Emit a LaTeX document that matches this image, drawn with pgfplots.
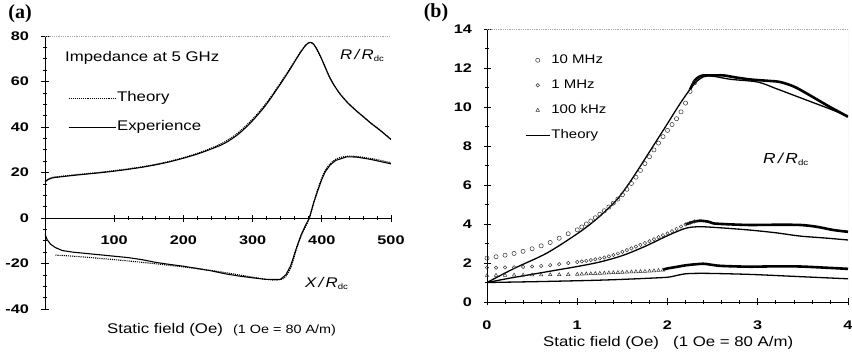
\documentclass[border=0pt]{standalone}
\usepackage{fontspec}
\setmainfont{Liberation Sans}
\newfontfamily\tfont{Liberation Sans}[FakeStretch=1.2]
\newfontfamily\kfont{Liberation Sans}[FakeStretch=1.3]
\newfontfamily\pfont{Liberation Serif}
\usepackage{pgfplots}
\pgfplotsset{compat=1.18}
\newcommand{\rdc}[1]{{\tfont\itshape #1\,/\,R}{\tfont\fontsize{8}{8}\selectfont\raisebox{-2pt}{dc}}}
\begin{document}
\begin{tikzpicture}
\useasboundingbox (0,0) rectangle (852pt,356pt);
% ---------------- panel (a)
\begin{axis}[
  at={(45pt,47pt)}, anchor=south west, scale only axis,
  width=346pt, height=273pt,
  xmin=0, xmax=500, ymin=-40, ymax=80,
  axis y line=left, axis x line=middle,
  axis line style={-, line width=0.9pt},
  hide obscured x ticks=false, hide obscured y ticks=false,
  xtick={100,200,300,400,500}, ytick={-40,-20,0,20,40,60,80},
  minor x tick num=4, minor y tick num=3,
  tick align=center, major tick length=7pt, minor tick length=4pt,
  major tick style={draw=black, line width=0.8pt},
  minor tick style={draw=black, line width=0.7pt},
  /pgf/number format/assume math mode=true,
  ticklabel style={font=\kfont\bfseries\fontsize{12.5}{12.5}\selectfont},
  xticklabel style={yshift=-11pt},
  yticklabel style={xshift=-9pt},
  legend style={draw=none, fill=none, at={(rel axis cs:0.066,0.80)}, anchor=north west,
    inner sep=0pt, row sep=14pt, font=\tfont\fontsize{14}{14}\selectfont,
    nodes={inner sep=1pt, text height=10pt, text depth=3pt}},
  legend cell align=left,
  legend image code/.code={\draw[#1] (0pt,0pt) -- (47pt,0pt);},
]
\addlegendimage{black, densely dotted, line width=1.1pt}
\addlegendimage{black, line width=1pt}
\legend{Theory, Experience}
\draw[gray!70, densely dotted, line width=0.8pt] (rel axis cs:0,1) -- (rel axis cs:1,1);
\draw[gray!70, densely dotted, line width=0.8pt] (rel axis cs:1,1) -- (rel axis cs:1,0);
\draw[gray!70, densely dotted, line width=0.8pt] (rel axis cs:0,0) -- (rel axis cs:1,0);
% R/Rdc experience
\addplot[black, line width=1.1pt, smooth, forget plot] coordinates {
(0,15.9)(5,17.0)(10,17.6)(20,18.0)(40,18.7)(60,19.3)(80,19.9)(100,20.6)(120,21.4)
(140,22.3)(160,23.4)(180,24.7)(200,26.3)(220,28.1)(240,30.3)(260,32.9)(280,37.0)
(300,42.8)(320,50.0)(340,58.8)(355,65.8)(365,70.8)(372,74.0)(377,76.0)(381,77.0)(384,77.2)
(387,76.8)(391,75.2)(395,73.0)(400,69.8)(412,61.5)(424,55.5)(436,51.1)(448,47.6)(460,44.5)
(472,41.4)(484,38.6)(500,34.5)};
% R/Rdc theory
\addplot[black, densely dotted, line width=1.1pt, smooth, forget plot] coordinates {
(0,16.2)(10,17.8)(20,18.2)(40,18.9)(60,19.5)(80,20.1)(100,20.8)(120,21.6)
(140,22.5)(160,23.6)(180,24.9)(200,26.5)(220,28.4)(240,30.7)(260,33.5)(280,37.7)
(300,43.5)(320,50.6)(340,59.3)(355,66.2)(365,71.1)(372,74.2)(377,76.1)(381,77.0)(384,77.2)
(387,76.7)(391,75.0)(395,72.8)(400,69.6)(412,61.4)(424,55.5)(436,51.2)(448,47.7)(460,44.6)
(472,41.5)(484,38.7)(500,34.6)};
% X/Rdc experience
\addplot[black, line width=1.1pt, forget plot] coordinates {
(0,-7.0)(3,-9.5)(8,-11.5)(15,-13.0)(25,-14.3)(40,-15.0)(60,-15.6)(80,-16.2)(100,-16.8)
(120,-17.4)(140,-18.3)(160,-19.5)(180,-20.4)(200,-21.2)(220,-22.2)(240,-23.2)(260,-24.5)
(280,-25.5)(300,-26.3)(320,-27.0)(340,-27.0)(348,-25.0)(355,-21.0)(363,-13.5)(370,-7.5)
(376,-3.5)(382,0)(388,6.5)(393,11.0)(400,17.0)(405,20.3)(412,23.3)(420,25.3)(436,26.9)
(450,26.8)(470,25.8)(485,24.8)(500,23.8)};
% X/Rdc theory
\addplot[black, densely dotted, line width=1.1pt, smooth, forget plot] coordinates {
(15,-16.3)(50,-17.0)(100,-18.3)(150,-19.8)(200,-21.5)(250,-23.5)(300,-26.0)(330,-27.3)
(345,-26.5)(355,-22.0)(363,-14.0)(370,-8.0)(382,0)(393,11.5)(405,21.0)(420,25.8)
(440,27.2)(470,26.2)(500,24.3)};
\end{axis}
\node[anchor=west, inner sep=0pt, font=\tfont\fontsize{14}{14}\selectfont] at (65pt,298pt) {Impedance at 5 GHz};
\node[anchor=west, inner sep=0pt, font=\fontsize{14}{14}\selectfont] at (340pt,301pt) {\rdc{R}};
\node[anchor=west, inner sep=0pt, font=\fontsize{14}{14}\selectfont] at (305pt,73pt) {\rdc{X}};
\node[anchor=west, inner sep=0pt, font=\tfont\fontsize{14}{14}\selectfont] at (107pt,26pt) {Static field (Oe)};
\node[anchor=west, inner sep=0pt, font=\tfont\fontsize{12}{12}\selectfont] at (233pt,26pt) {(1 Oe = 80 A/m)};
\node[anchor=center, inner sep=0pt, font=\pfont\bfseries\fontsize{20}{20}\selectfont] at (20pt,342pt) {(a)};
% ---------------- panel (b)
\begin{axis}[
  at={(487pt,54pt)}, anchor=south west, scale only axis,
  width=361pt, height=273pt,
  xmin=0, xmax=4, ymin=0, ymax=14,
  axis y line=left, axis x line=bottom,
  axis line style={-, line width=0.9pt},
  xtick={0,1,2,3,4}, ytick={0,2,4,6,8,10,12,14},
  minor x tick num=4, minor y tick num=1,
  tick align=center, major tick length=7pt, minor tick length=4pt,
  major tick style={draw=black, line width=0.8pt},
  minor tick style={draw=black, line width=0.7pt},
  /pgf/number format/assume math mode=true,
  ticklabel style={font=\kfont\bfseries\fontsize{12.5}{12.5}\selectfont},
  xticklabel style={yshift=-12pt},
  yticklabel style={xshift=-8pt},
  legend style={draw=none, fill=none, at={(rel axis cs:0.105,0.91)}, anchor=north west,
    inner sep=0pt, row sep=12pt, font=\tfont\fontsize{12.5}{12.5}\selectfont,
    nodes={inner sep=1pt, text height=9pt, text depth=2pt}},
  legend cell align=left,
  legend image code/.code={\draw[mark repeat=2,mark phase=2,#1] plot coordinates {(0pt,0pt) (12pt,0pt) (24pt,0pt)};},
]
\addlegendimage{only marks, mark=o, mark size=2.1pt, mark options={line width=0.5pt, draw=black!80}}
\addlegendimage{only marks, mark=o, mark size=1.7pt, mark options={line width=0.5pt, draw=black!80}}
\addlegendimage{only marks, mark=triangle, mark size=2pt, mark options={line width=0.5pt, draw=black!80}}
\addlegendimage{black, line width=1.3pt}
\legend{10 MHz, 1 MHz, 100 kHz, Theory}
\draw[gray!70, densely dotted, line width=0.8pt] (rel axis cs:0,1) -- (rel axis cs:1,1);
\draw[gray!70, densely dotted, line width=0.8pt] (rel axis cs:1,1) -- (rel axis cs:1,0);
% 10 MHz markers
\addplot[only marks, mark=o, mark size=2.1pt, mark options={line width=0.5pt, draw=black!80}, forget plot] coordinates {
(0,2.25)(0.1,2.32)(0.2,2.40)(0.3,2.49)(0.4,2.60)(0.5,2.73)(0.6,2.88)(0.7,3.05)(0.8,3.27)(0.9,3.50)
(1.0,3.70)(1.05,3.85)(1.1,4.00)(1.15,4.15)(1.2,4.32)(1.25,4.50)(1.3,4.68)(1.35,4.87)(1.4,5.07)
(1.45,5.28)(1.5,5.50)(1.55,5.78)(1.6,6.08)(1.65,6.40)(1.7,6.75)(1.75,7.10)(1.8,7.45)(1.85,7.80)
(1.9,8.15)(1.95,8.48)(2.0,8.80)(2.05,9.10)(2.1,9.40)(2.15,9.75)(2.2,10.20)(2.25,10.80)(2.3,11.25)};
\addplot[black, line width=2.6pt, smooth, forget plot] coordinates {
(2.25,10.9)(2.3,11.35)(2.35,11.55)(2.4,11.62)(2.5,11.62)(2.62,11.62)(2.75,11.52)(2.9,11.42)
(3.0,11.38)(3.15,11.33)(3.25,11.28)(3.4,11.05)(3.54,10.7)(3.67,10.35)(3.8,10.0)(3.9,9.75)(4.0,9.5)};
% 1 MHz markers
\addplot[only marks, mark=o, mark size=1.7pt, mark options={line width=0.5pt, draw=black!80}, forget plot] coordinates {
(0,1.76)(0.1,1.76)(0.2,1.77)(0.3,1.78)(0.4,1.80)(0.5,1.82)(0.6,1.85)(0.7,1.89)(0.8,1.94)(0.9,2.00)
(1.0,2.05)(1.05,2.08)(1.1,2.11)(1.15,2.15)(1.2,2.19)(1.25,2.23)(1.3,2.28)(1.35,2.34)(1.4,2.41)
(1.45,2.49)(1.5,2.57)(1.55,2.66)(1.6,2.75)(1.65,2.84)(1.7,2.93)(1.75,3.02)(1.8,3.12)(1.85,3.22)
(1.9,3.32)(1.95,3.42)(2.0,3.52)(2.05,3.63)(2.1,3.75)(2.15,3.87)(2.2,3.98)(2.25,4.07)(2.3,4.13)};
\addplot[black, line width=2.6pt, smooth, forget plot] coordinates {
(2.2,3.98)(2.3,4.13)(2.36,4.17)(2.45,4.12)(2.51,4.03)(2.7,3.98)(2.91,3.95)(3.2,3.96)(3.47,3.95)
(3.65,3.86)(3.84,3.69)(4.0,3.6)};
% 100 kHz markers
\addplot[only marks, mark=triangle, mark size=2pt, mark options={line width=0.5pt, draw=black!80}, forget plot] coordinates {
(0,1.36)(0.1,1.37)(0.2,1.37)(0.3,1.38)(0.4,1.38)(0.5,1.39)(0.6,1.39)(0.7,1.40)(0.8,1.40)(0.9,1.41)
(1.0,1.42)(1.05,1.43)(1.1,1.44)(1.15,1.45)(1.2,1.46)(1.25,1.47)(1.3,1.48)(1.35,1.49)(1.4,1.50)
(1.45,1.51)(1.5,1.52)(1.55,1.53)(1.6,1.54)(1.65,1.55)(1.7,1.56)(1.75,1.57)(1.8,1.58)(1.85,1.60)
(1.9,1.62)(1.95,1.64)};
\addplot[black, line width=2.6pt, smooth, forget plot] coordinates {
(1.95,1.66)(2.0,1.72)(2.1,1.80)(2.2,1.88)(2.3,1.93)(2.4,1.96)(2.5,1.90)(2.6,1.85)(2.91,1.81)
(3.2,1.83)(3.47,1.82)(3.75,1.76)(4.0,1.70)};
% theories
\addplot[black, line width=1.3pt, smooth, forget plot] coordinates {
(0,1.0)(0.3,1.72)(0.66,2.5)(1.0,3.5)(1.2,4.2)(1.4,5.05)(1.5,5.6)(1.62,6.4)(1.8,7.7)(2.0,9.15)
(2.15,10.25)(2.3,11.2)(2.4,11.55)(2.5,11.58)(2.7,11.42)(3.0,11.28)(3.2,10.95)(3.4,10.6)(3.6,10.25)
(3.8,9.9)(4.0,9.52)};
\addplot[black, line width=1.3pt, smooth, forget plot] coordinates {
(0,1.0)(0.25,1.22)(0.5,1.42)(0.75,1.62)(1.0,1.82)(1.25,2.05)(1.5,2.38)(1.75,2.85)(2.0,3.4)
(2.2,3.78)(2.36,3.86)(2.6,3.8)(2.91,3.69)(3.2,3.55)(3.47,3.38)(3.75,3.28)(4.0,3.18)};
\addplot[black, line width=1.3pt, smooth, forget plot] coordinates {
(0,1.0)(0.5,1.04)(1.0,1.09)(1.25,1.12)(1.5,1.16)(1.75,1.21)(2.0,1.27)(2.1,1.36)(2.21,1.45)
(2.4,1.47)(2.73,1.44)(3.0,1.40)(3.47,1.30)(4.0,1.19)};
\end{axis}
\node[anchor=west, inner sep=0pt, font=\fontsize{14.5}{14.5}\selectfont] at (763pt,197pt) {\rdc{R}};
\node[anchor=west, inner sep=0pt, font=\tfont\fontsize{14}{14}\selectfont] at (543pt,13pt) {Static field (Oe)};
\node[anchor=west, inner sep=0pt, font=\tfont\fontsize{14}{14}\selectfont] at (673pt,13pt) {(1 Oe = 80 A/m)};
\node[anchor=center, inner sep=0pt, font=\pfont\bfseries\fontsize{20}{20}\selectfont] at (436pt,343pt) {(b)};
\end{tikzpicture}
\end{document}
